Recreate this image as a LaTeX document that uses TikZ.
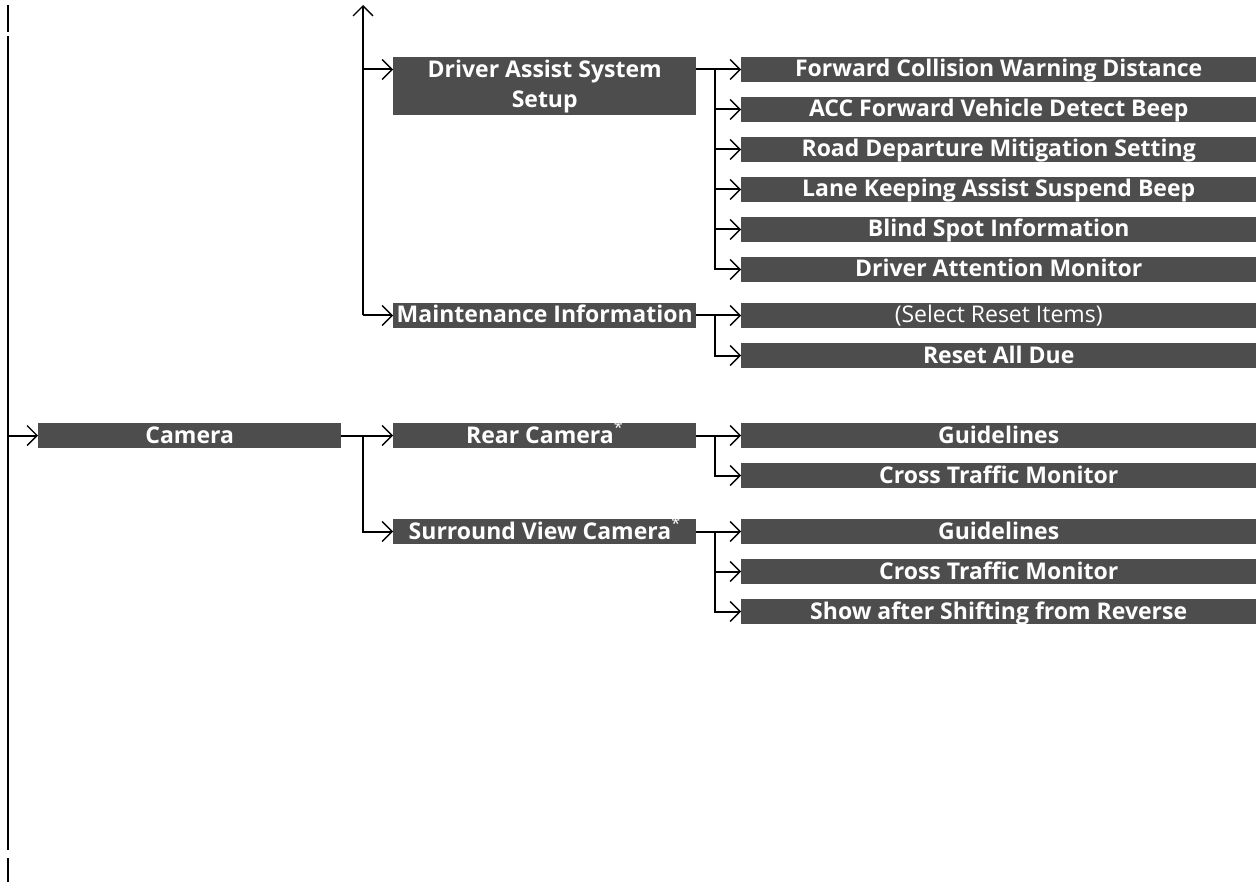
\documentclass[tikz,border=0pt]{standalone}
\usepackage{fontspec}
\setsansfont{Open Sans}
\usetikzlibrary{arrows.meta}
\definecolor{menugray}{HTML}{4D4D4D}

\begin{document}
\begin{tikzpicture}[x=1pt, y=-1pt,
    link/.style={line width=2pt},
    tip/.style={-{Straight Barb[length=10pt,width=20pt,line width=1.3pt]}},
    menu/.style={fill=menugray, text=white, inner sep=0pt, anchor=west,
        minimum height=25pt, text height=19pt, text depth=4pt,
        font=\sffamily\bfseries\fontsize{23}{30}\selectfont},
    lvlone/.style={menu, minimum width=303pt},
    lvltwo/.style={menu, minimum width=303pt},
    lvlthree/.style={menu, minimum width=515pt}]
    \useasboundingbox (0,0) rectangle (1260,882);

    % Left rail
    \draw[link] (8,5) -- (8,32);
    \draw[link] (8,36) -- (8,850);
    \draw[link] (8,858) -- (8,882);
    \coordinate (rail) at (8,435.5);

    % First level
    \node[lvlone] (camera) at (38,435.5) {Camera};

    % Second level
    \node[lvltwo, minimum height=58pt, text height=46pt, anchor=north west, align=center] (das) at (393,57) {Driver Assist System\\Setup};
    \node[lvltwo] (maint) at (393,315.5) {Maintenance Information};
    \node[lvltwo] (rear) at (393,435.5) {Rear Camera\textsuperscript{\mdseries*}};
    \node[lvltwo] (surround) at (393,531.5) {Surround View Camera\textsuperscript{\mdseries*}};

    % Third level
    \node[lvlthree] (fcw) at (741,69.5) {Forward Collision Warning Distance};
    \node[lvlthree] (acc) at (741,109.5) {ACC Forward Vehicle Detect Beep};
    \node[lvlthree] (rdm) at (741,149.5) {Road Departure Mitigation Setting};
    \node[lvlthree] (lka) at (741,189.5) {Lane Keeping Assist Suspend Beep};
    \node[lvlthree] (bsi) at (741,229.5) {Blind Spot Information};
    \node[lvlthree] (dam) at (741,269.5) {Driver Attention Monitor};
    \node[lvlthree, font=\sffamily\mdseries\fontsize{23}{30}\selectfont] (selreset) at (741,315.5) {(Select Reset Items)};
    \node[lvlthree] (resetall) at (741,355.5) {Reset All Due};
    \node[lvlthree] (rearguide) at (741,435.5) {Guidelines};
    \node[lvlthree] (rearcross) at (741,475.5) {Cross Traffic Monitor};
    \node[lvlthree] (surrguide) at (741,531.5) {Guidelines};
    \node[lvlthree] (surrcross) at (741,571.5) {Cross Traffic Monitor};
    \node[lvlthree] (shift) at (741,611.5) {Show after Shifting from Reverse};

    % Trunk to the second level
    \coordinate (trunktop) at (363,5);
    \draw[link,tip] (trunktop |- maint) -- (trunktop);
    \draw[link,tip] (trunktop |- fcw) -- (das.west |- fcw);
    \draw[link,tip] (trunktop |- maint) -- (maint.west);
    \draw[link,tip] (rail) -- (camera.west);
    \draw[link,tip] (camera.east) -- (rear.west);
    \draw[link,tip] (trunktop |- rear) |- (surround.west);

    % Forks to the third level
    \coordinate (fork) at (715,0);
    \draw[link,tip] (das.east |- fcw) -- (fcw.west);
    \draw[link,tip] (fork |- fcw) |- (dam.west);
    \foreach \n in {acc,rdm,lka,bsi}
        \draw[link,tip] (fork |- \n) -- (\n.west);
    \draw[link,tip] (maint.east) -- (selreset.west);
    \draw[link,tip] (fork |- selreset) |- (resetall.west);
    \draw[link,tip] (rear.east) -- (rearguide.west);
    \draw[link,tip] (fork |- rearguide) |- (rearcross.west);
    \draw[link,tip] (surround.east) -- (surrguide.west);
    \draw[link,tip] (fork |- surrguide) |- (shift.west);
    \draw[link,tip] (fork |- surrcross) -- (surrcross.west);

\end{tikzpicture}
\end{document}
